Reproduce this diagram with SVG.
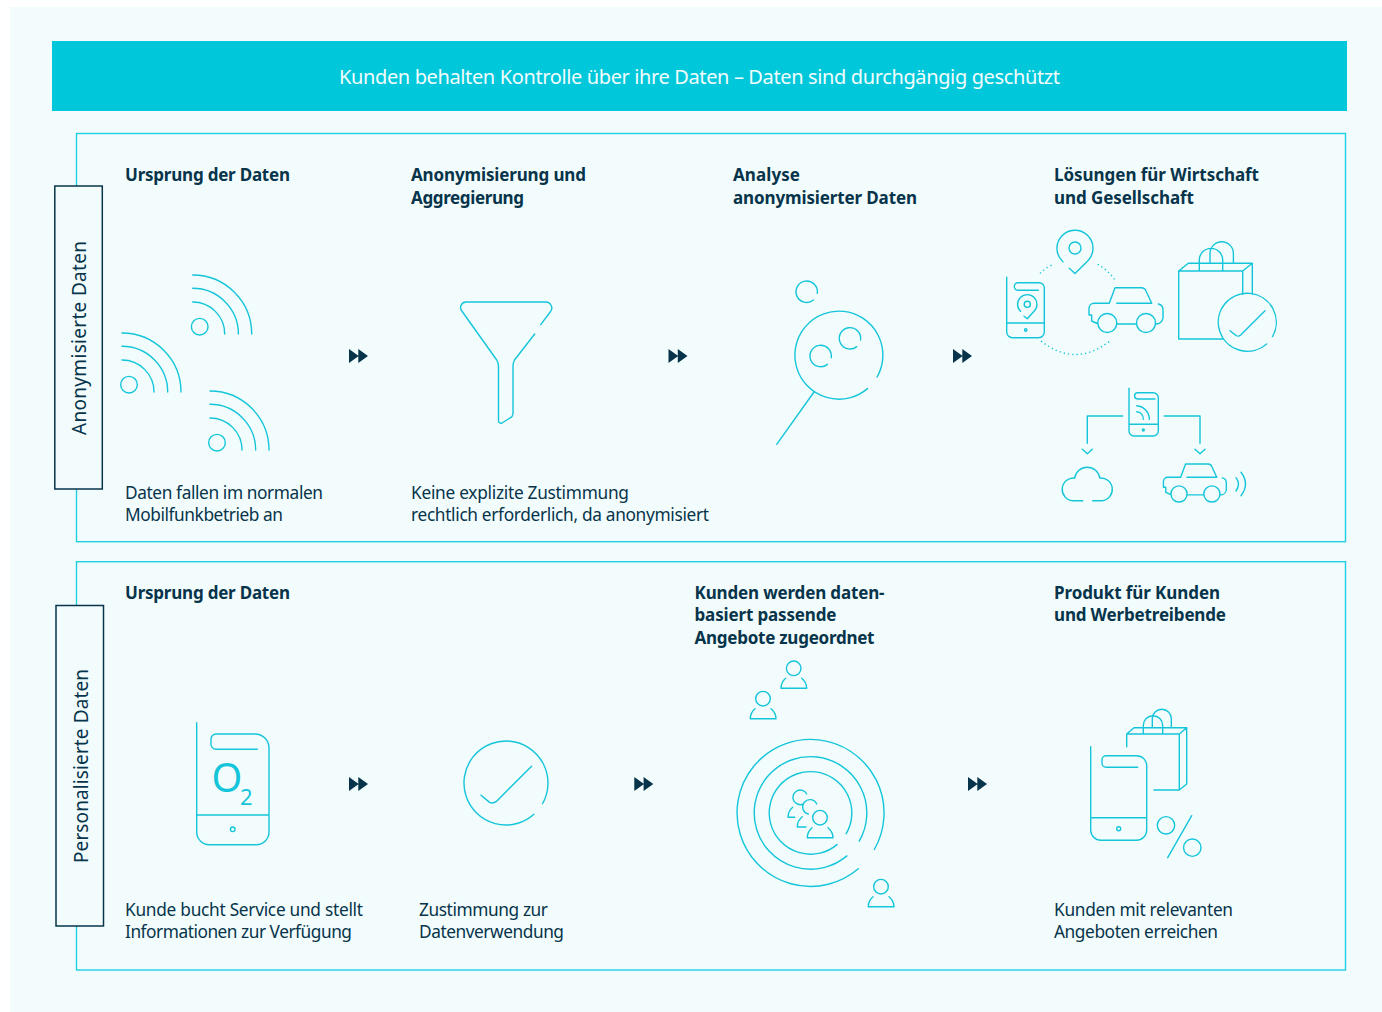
<svg xmlns="http://www.w3.org/2000/svg" width="1382" height="1012" viewBox="0 0 1382 1012">
<style>
text{font-family:"Noto Sans","Open Sans","Liberation Sans",sans-serif;fill:#07344a}
.b{font-size:17px;font-weight:700}
.t{font-size:17.300px}
.v{font-size:19px}
.i{fill:none;stroke:#14c5da;stroke-width:1.4;stroke-linecap:round;stroke-linejoin:round}
.i text{stroke:none;fill:#14c5da}
.f{fill:none;stroke:#1fd0e3;stroke-width:1.4}
.l{fill:#f2fcfd;stroke:#07344a;stroke-width:1.5}
.n{vector-effect:non-scaling-stroke}
.ff{fill:#07344a}
</style>
<defs>
<g id="wifi"><path d="M122 333A59 59 0 0 1 181 392M122 346.300A45.700 45.700 0 0 1 167.700 392M122 360A32 32 0 0 1 154 392"/><circle cx="129" cy="384.700" r="8.300"/></g>
<path id="ffw" d="M0 0L9.700 7L0 14ZM9.300 0L19 7L9.300 14Z"/>
<g id="person"><circle cx="0" cy="0" r="7.300"/><path d="M-8 10A13 13 0 0 0 -12.700 20H13A13 13 0 0 0 8 10"/></g>
<path id="sc" d="M10.560 1.700A10.700 10.700 0 1 0 6.700 8.350"/>
<g id="car"><path class="n" d="M1109.300 303.300L1115 287.700H1141A5 5 0 0 1 1146 291L1151.700 303.300H1116.700M1109.300 303.300H1094A5 5 0 0 0 1089 308V315H1091.700V321L1097.300 323.500M1117 324H1136.400M1158.300 304A6 6 0 0 1 1163 310V318A7 7 0 0 1 1155.700 324"/><circle class="n" cx="1107.300" cy="323" r="9.500"/><circle class="n" cx="1146" cy="323" r="9.500"/></g>
</defs>
<rect x="10" y="7" width="1372" height="1005" fill="#f2fcfd"/>
<g id="banner"><rect x="52" y="41" width="1295" height="70" fill="#00c8da"/><text x="339" y="84" style="fill:#f2fcfd;font-size:20px" textLength="721">Kunden behalten Kontrolle über ihre Daten – Daten sind durchgängig geschützt</text></g>

<g id="frame-anonym"><rect class="f" x="76.500" y="133.500" width="1269" height="408.200"/></g>
<g id="frame-personal"><rect class="f" x="76.500" y="561.700" width="1269" height="408.300"/></g>
<g id="label-anonym"><rect class="l" x="54.800" y="186" width="47.500" height="303"/><text class="v" transform="translate(85.500 435) rotate(-90)" textLength="194">Anonymisierte Daten</text></g>
<g id="label-personal"><rect class="l" x="56" y="605.500" width="47.500" height="320.500"/><text class="v" transform="translate(87.500 863) rotate(-90)" textLength="194">Personalisierte Daten</text></g>

<g id="connectors">
<use href="#ffw" class="ff" x="349" y="349"/>
<use href="#ffw" class="ff" x="668.500" y="349"/>
<use href="#ffw" class="ff" x="953" y="349"/>
<use href="#ffw" class="ff" x="349" y="777"/>
<use href="#ffw" class="ff" x="634.300" y="777"/>
<use href="#ffw" class="ff" x="968" y="777"/>
</g>

<g id="node-ursprung-1">
<text class="b" x="125" y="181" textLength="165">Ursprung der Daten</text>
<g class="i"><use href="#wifi"/><use href="#wifi" x="70.700" y="-58"/><use href="#wifi" x="88" y="58"/></g>
<text class="t" x="125" y="499" textLength="198">Daten fallen im normalen</text>
<text class="t" x="125" y="521" textLength="158">Mobilfunkbetrieb an</text>
</g>

<g id="node-anonymisierung">
<text class="b" x="411" y="181" textLength="175">Anonymisierung und</text>
<text class="b" x="411" y="204" textLength="113">Aggregierung</text>
<path class="i" d="M540.700 324.700L550.200 312A6 6 0 0 0 545.500 302H466A5.500 5.500 0 0 0 461.500 310.500L496.700 360Q498.500 363 498.500 366V420.500A2.500 2.500 0 0 0 502 423L510 418A5 5 0 0 0 513 414V366Q513 363 514.500 360L534.700 334"/>
<text class="t" x="411" y="499" textLength="218">Keine explizite Zustimmung</text>
<text class="t" x="411" y="521" textLength="298">rechtlich erforderlich, da anonymisiert</text>
</g>

<g id="node-analyse">
<text class="b" x="733" y="181" textLength="67">Analyse</text>
<text class="b" x="733" y="204" textLength="184">anonymisierter Daten</text>
<g class="i">
<path d="M867.500 388.600A44 44 0 1 1 877.100 377M814 392L776.700 444.300"/>
<use href="#sc" x="806.700" y="291.700"/><use href="#sc" x="820.700" y="356"/><use href="#sc" x="850" y="338.300"/>
</g>
</g>

<g id="node-loesungen">
<text class="b" x="1054" y="181" textLength="205">Lösungen für Wirtschaft</text>
<text class="b" x="1054" y="204" textLength="140">und Gesellschaft</text>
<g class="i">
<path d="M1069.300 268.300L1075 273.500L1087.700 261A18 18 0 1 0 1063 261.700"/><circle cx="1075" cy="248" r="6"/>
<path d="M1006.700 277.300V332A5.700 5.700 0 0 0 1012.400 337.700H1038.600A5.700 5.700 0 0 0 1044.300 332V288A5.300 5.300 0 0 0 1039 282.700H1018.100A3.800 3.800 0 0 0 1018.100 290.300H1038.300M1006.700 323H1044.300"/><circle cx="1025.700" cy="330" r="1.200"/>
<path d="M1024 316.200L1027.300 318.700L1034 311.300A9.700 9.700 0 1 0 1020.600 311.300"/><circle cx="1027.300" cy="304.300" r="3.100"/>
<path stroke-linecap="butt" stroke-dasharray="1.300 3" d="M1040 273.300Q1045 268.500 1051.700 265M1097.700 264.300Q1108 270 1115 280M1041 341Q1075 368 1110 341"/>
<use href="#car"/>
<path d="M1199.300 271V260A11.700 11.700 0 0 1 1222.700 260V271M1210 263.300V253.400A11.700 11.700 0 0 1 1233.400 253.400V263.300M1223.300 339H1178.700V271H1242.700V294M1178.700 271L1188.300 263.300H1252.300L1242.700 271M1252.300 263.300V294"/>
<path d="M1272.500 336.600A29 29 0 1 0 1266.600 343.900M1230 330.700L1236 335.500Q1238.500 337 1240.700 335L1265 310.700"/>
<path d="M1122.700 416H1087.300V443.300M1082.300 449.300L1087.300 453.700L1092.300 449.300M1164.300 416H1200V443.300M1195 449.300L1200 453.700L1205 449.300"/>
<path d="M1129 388.300V431A5 5 0 0 0 1134 436H1153.300A5 5 0 0 0 1158.300 431V397.700A5 5 0 0 0 1153.300 392.700H1137.700A3.150 3.150 0 0 0 1137.700 399H1155M1129 424.300H1158.300M1136.700 405.700A13.500 13.500 0 0 1 1149.300 419.300M1136.700 411.700A7 7 0 0 1 1143.300 419.300"/><circle cx="1143.300" cy="430" r="1"/>
<path d="M1082.700 500.700H1072.500A11 11 0 0 1 1074.700 478A12.700 12.700 0 0 1 1099.800 478A11 11 0 0 1 1102 500.700H1092.700"/>
<use href="#car" transform="translate(237.800 219.450) scale(.85)"/>
<path d="M1236 477.700Q1241 484.300 1236 491M1241 472.300Q1250 484 1241 495.700"/>
</g>
</g>

<g id="node-ursprung-2">
<text class="b" x="125" y="599" textLength="165">Ursprung der Daten</text>
<g class="i">
<path d="M196.700 722.700V832A12.700 12.700 0 0 0 209.400 844.700H256.300A12.700 12.700 0 0 0 269 832V748A14 14 0 0 0 255 734H216A5 5 0 0 0 211 739V744.300A5 5 0 0 0 216 749.300H257.300M196.700 815H269"/><circle cx="232.700" cy="829.300" r="2.300"/>
<text x="211.500" y="791.500" style="font-size:39.500px">O</text>
<text x="240" y="805" style="font-size:22px">2</text>
</g>
<text class="t" x="125" y="916" textLength="238">Kunde bucht Service und stellt</text>
<text class="t" x="125" y="938" textLength="227">Informationen zur Verfügung</text>
</g>

<g id="node-zustimmung">
<path class="i" d="M542.500 803.750A42 42 0 1 0 534 814.300M481 795.200L489.600 802.400Q493 804 496.400 801.400L531.600 766.200"/>
<text class="t" x="419" y="916" textLength="129">Zustimmung zur</text>
<text class="t" x="419" y="938" textLength="145">Datenverwendung</text>
</g>

<g id="node-angebote">
<text class="b" x="694.500" y="599" textLength="190">Kunden werden daten-</text>
<text class="b" x="694.500" y="621" textLength="142">basiert passende</text>
<text class="b" x="694.500" y="644" textLength="180">Angebote zugeordnet</text>
<g class="i">
<use href="#person" x="793.700" y="668.300"/><use href="#person" x="763" y="698.700"/><use href="#person" x="881" y="886.700"/><use href="#person" x="820" y="817.700"/>
<path d="M874.300 849.500A73.500 73.500 0 1 0 858.300 868.800M859.200 841.200A56.300 56.300 0 1 0 846.900 855.900M846.200 833.700A41.300 41.300 0 1 0 837 844.600"/>
<path d="M806.700 794A7.300 7.300 0 1 0 803.300 804M788 817.300A13 13 0 0 1 792.700 807.300M788 817.300H794.700M816.700 804A7.300 7.300 0 1 0 808.300 814M797.300 827A13 13 0 0 1 802.300 816.700M797.300 827H806"/>
</g>
</g>

<g id="node-produkt">
<text class="b" x="1054" y="599" textLength="166">Produkt für Kunden</text>
<text class="b" x="1054" y="621" textLength="172">und Werbetreibende</text>
<g class="i">
<path d="M1090.700 746.700V830A10.300 10.300 0 0 0 1101 840.300H1136.400A10.300 10.300 0 0 0 1146.700 830V765.700A10 10 0 0 0 1136.700 755.700H1106A4 4 0 0 0 1102 759.700V763.300A4 4 0 0 0 1106 767.300H1137.700M1090.700 817.700H1146.700"/><circle cx="1118.700" cy="828.700" r="2"/>
<path d="M1126.700 746.700V734H1179.300V790H1154M1126.700 734L1134 727.700H1186.700V784L1179.300 790M1179.300 734L1186.700 727.700M1143.300 734V725.400A9.700 9.700 0 0 1 1162.700 725.400V734M1152.300 727.700V718.800A9.500 9.500 0 0 1 1171.300 718.800V727.700"/>
<circle cx="1166" cy="825.300" r="8.700"/><circle cx="1192.300" cy="847.700" r="8.700"/><path d="M1191.700 815.700L1167.700 857.700"/>
</g>
<text class="t" x="1054" y="916" textLength="179">Kunden mit relevanten</text>
<text class="t" x="1054" y="938" textLength="164">Angeboten erreichen</text>
</g>
</svg>
